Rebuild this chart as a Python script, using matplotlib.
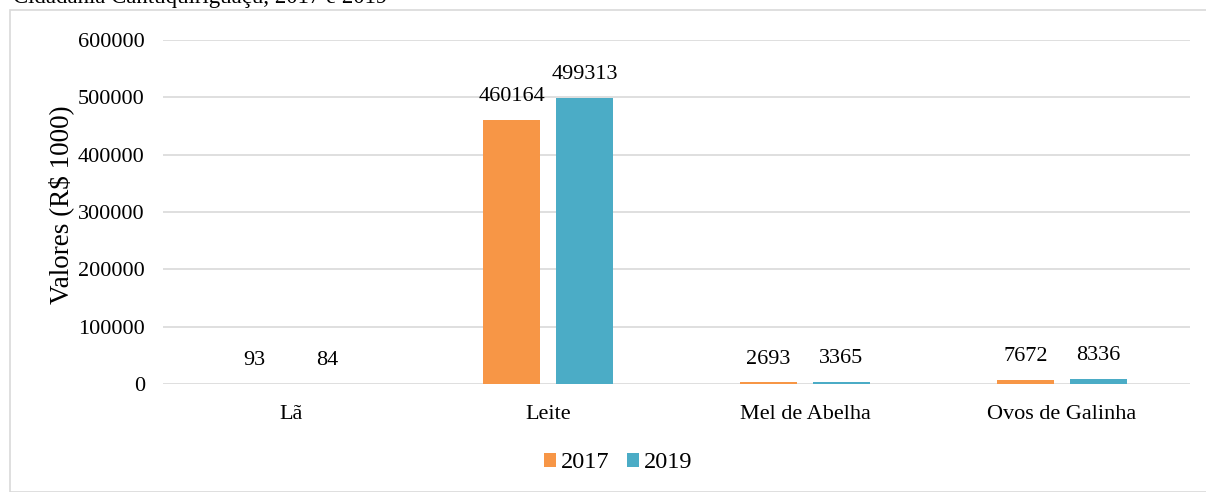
import numpy as np
import matplotlib.pyplot as plt
from matplotlib.patches import Rectangle

# data
categories = ['Lã', 'Leite', 'Mel de Abelha', 'Ovos de Galinha']
valores_2017 = [93, 460164, 2693, 7672]
valores_2019 = [84, 499313, 3365, 8336]
yticks = [0, 100000, 200000, 300000, 400000, 500000, 600000]

plt.rcParams['font.family'] = ['Liberation Serif', 'DejaVu Serif']

fig = plt.figure(figsize=(12.06, 4.92), dpi=100)
ax = fig.add_axes([0.135, 0.2195, 0.852, 0.6992])

# light grey frame around the chart area
fig.patches.append(Rectangle((10 / 1206, 0), 1.2, 1 - 10 / 492, transform=fig.transFigure,
                             fill=False, edgecolor='#D9D9D9', linewidth=1.2))

# title that is cut off at the top of the image
fig.text(13 / 1206, 1 - 3 / 492, 'Cidadania Cantuquiriguaçu, 2017 e 2019', fontsize=16.5,
         ha='left', va='baseline', color='black')

x = np.arange(len(categories))
w = 0.222
off = 0.142
b1 = ax.bar(x - off, valores_2017, w, color='#F79646', label='2017', zorder=3)
b2 = ax.bar(x + off, valores_2019, w, color='#4BACC6', label='2019', zorder=3)

for bars, vals in [(b1, valores_2017), (b2, valores_2019)]:
    for rect, v in zip(bars, vals):
        ax.annotate(str(v), (rect.get_x() + rect.get_width() / 2, v),
                    xytext=(0, 10), textcoords='offset points',
                    ha='center', va='bottom', fontsize=16)

ax.set_xlim(-0.5, len(categories) - 0.5)
ax.set_ylim(0, 600000)
ax.set_yticks(yticks)
ax.set_yticklabels([str(t) for t in yticks], fontsize=16)
ax.set_xticks(x)
ax.set_xticklabels(categories, fontsize=16)
ax.tick_params(axis='y', length=0, pad=13)
ax.tick_params(axis='x', length=0, pad=15)
ax.grid(axis='y', color='#D9D9D9', linewidth=1.2, zorder=0)
for s in ax.spines.values():
    s.set_visible(False)
ax.set_ylabel('Valores (R$ 1000)', fontsize=19.5, labelpad=3, y=0.52)

fig.legend(handles=[b1, b2], loc='center', bbox_to_anchor=(618 / 1206, 1 - 463 / 492),
           ncol=2, frameon=False, fontsize=17.5, handlelength=0.5, handleheight=0.5,
           handletextpad=0.2, columnspacing=0.7)

fig.savefig('out.png', dpi=100)
